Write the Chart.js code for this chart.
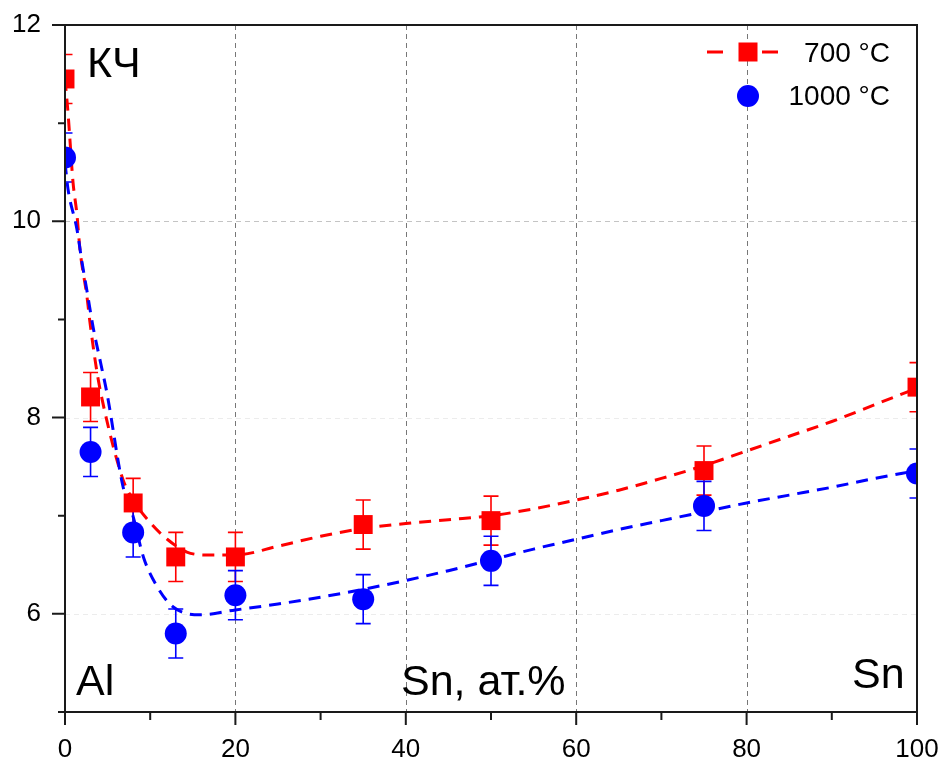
<!DOCTYPE html>
<html>
<head>
<meta charset="utf-8">
<script src="https://cdn.jsdelivr.net/npm/chart.js@4/dist/chart.umd.min.js"></script>
<style>
  html, body { margin: 0; padding: 0; background: #ffffff; }
  #wrap { width: 944px; height: 762px; }
</style>
</head>
<body>
<div id="wrap"><canvas id="c" width="944" height="762"></canvas></div>
<script>
// ---- data ----
const xSn = [0, 3, 8, 13, 20, 35, 50, 75, 100];
const y700 = [11.45, 8.21, 7.13, 6.58, 6.58, 6.91, 6.95, 7.46, 8.31];
const err700 = [0.25, 0.25, 0.25, 0.25, 0.25, 0.25, 0.25, 0.25, 0.25];
const y1000 = [10.65, 7.65, 6.83, 5.80, 6.19, 6.15, 6.54, 7.10, 7.43];
const err1000 = [0.25, 0.25, 0.25, 0.25, 0.25, 0.25, 0.25, 0.25, 0.25];

const fit700X = [0, 0.35, 0.94, 1.4, 1.76, 2.58, 2.93, 3.76, 4.7, 6.8, 8, 10, 12, 14.3, 16.7, 20, 25, 30, 35, 40, 45, 50, 55, 60, 65, 70, 75, 80, 85, 90, 95, 100];
const fit700Y = [11.45, 11.11, 10.40, 10.07, 9.71, 9.23, 8.97, 8.46, 8.05, 7.37, 7.16, 6.93, 6.76, 6.63, 6.60, 6.60, 6.69, 6.79, 6.87, 6.92, 6.96, 7.00, 7.07, 7.16, 7.26, 7.38, 7.51, 7.66, 7.81, 7.96, 8.13, 8.30];
const fit1000X = [0, 0.35, 1.4, 2.0, 2.6, 3.3, 4.1, 4.9, 6.8, 8, 9.2, 10.8, 12.7, 15.8, 20, 25, 30, 35, 40, 45, 50, 55, 60, 65, 70, 75, 80, 85, 90, 95, 100];
const fit1000Y = [10.6, 10.33, 9.92, 9.58, 9.28, 8.92, 8.59, 8.26, 7.30, 6.99, 6.58, 6.28, 6.07, 5.99, 6.04, 6.10, 6.17, 6.25, 6.34, 6.44, 6.55, 6.66, 6.76, 6.86, 6.95, 7.04, 7.13, 7.21, 7.29, 7.38, 7.46];

const xTickLabels = [0, 20, 40, 60, 80, 100];
const yTickLabels = [6, 8, 10, 12];
const seriesNames = ['700 °C', '1000 °C'];
const noteLabels = ['КЧ', 'Al', 'Sn, ат.%', 'Sn'];

const RED = '#ff0000';
const BLUE = '#0000ff';
const FONT = '"Liberation Sans", Arial, sans-serif';

const pts = (xs, ys) => xs.map((x, i) => ({ x: x, y: ys[i] }));

const decor = {
  id: 'decor',
  beforeDatasetsDraw(chart) {
    const ctx = chart.ctx, a = chart.chartArea;
    const xs = chart.scales.x, ys = chart.scales.y;
    ctx.save();
    // grid lines
    ctx.lineWidth = 1;
    ctx.setLineDash([5, 4]);
    ctx.strokeStyle = '#777777';
    [20, 40, 60, 80].forEach(v => {
      const px = Math.round(xs.getPixelForValue(v)) + 0.5;
      ctx.beginPath(); ctx.moveTo(px, a.top); ctx.lineTo(px, a.bottom); ctx.stroke();
    });
    [6, 8, 10].forEach(v => {
      ctx.strokeStyle = v === 10 ? '#c4c4c4' : '#ececec';
      const py = Math.round(ys.getPixelForValue(v)) + 0.5;
      ctx.beginPath(); ctx.moveTo(a.left, py); ctx.lineTo(a.right, py); ctx.stroke();
    });
    ctx.setLineDash([]);
    // error bars
    ctx.beginPath(); ctx.rect(a.left, a.top, a.right - a.left, a.bottom - a.top); ctx.clip();
    const drawErr = (yv, ev, col) => {
      ctx.strokeStyle = col; ctx.lineWidth = 1.6;
      xSn.forEach((x, i) => {
        const px = xs.getPixelForValue(x);
        const p1 = ys.getPixelForValue(yv[i] + ev[i]);
        const p2 = ys.getPixelForValue(yv[i] - ev[i]);
        ctx.beginPath();
        ctx.moveTo(px, p1); ctx.lineTo(px, p2);
        ctx.moveTo(px - 7.5, p1); ctx.lineTo(px + 7.5, p1);
        ctx.moveTo(px - 7.5, p2); ctx.lineTo(px + 7.5, p2);
        ctx.stroke();
      });
    };
    drawErr(y700, err700, RED);
    drawErr(y1000, err1000, BLUE);
    ctx.restore();
  },
  afterDraw(chart) {
    const ctx = chart.ctx, a = chart.chartArea;
    const xs = chart.scales.x, ys = chart.scales.y;
    ctx.save();
    // frame
    ctx.strokeStyle = '#1a1a1a';
    ctx.lineWidth = 2;
    ctx.strokeRect(a.left, a.top, a.right - a.left, a.bottom - a.top);
    // ticks
    ctx.beginPath();
    for (let v = 5; v <= 12; v++) {
      const py = ys.getPixelForValue(v);
      const len = (v % 2 === 0) ? 13 : 7;
      ctx.moveTo(a.left, py); ctx.lineTo(a.left - len, py);
    }
    for (let v = 0; v <= 100; v += 10) {
      const px = xs.getPixelForValue(v);
      const len = (v % 20 === 0) ? 13 : 8;
      ctx.moveTo(px, a.bottom); ctx.lineTo(px, a.bottom + len);
    }
    ctx.stroke();
    // annotations
    ctx.fillStyle = '#000000';
    ctx.textBaseline = 'alphabetic';
    ctx.textAlign = 'left';
    ctx.font = '43px ' + FONT;
    ctx.fillText(noteLabels[0], 87, 77);
    ctx.fillText(noteLabels[1], 76, 695);
    ctx.fillText(noteLabels[2], 401, 695);
    ctx.fillText(noteLabels[3], 852, 688);
    // legend
    const lx = 748;
    ctx.strokeStyle = RED; ctx.lineWidth = 3;
    ctx.beginPath();
    ctx.moveTo(707, 52); ctx.lineTo(723, 52);
    ctx.moveTo(762, 52); ctx.lineTo(778, 52);
    ctx.stroke();
    ctx.fillStyle = RED;
    ctx.fillRect(lx - 9.5, 52 - 9.5, 19, 19);
    ctx.fillStyle = BLUE;
    ctx.beginPath(); ctx.arc(lx, 96, 11, 0, Math.PI * 2); ctx.fill();
    ctx.fillStyle = '#000000';
    ctx.font = '28px ' + FONT;
    ctx.textAlign = 'right';
    ctx.textBaseline = 'middle';
    ctx.fillText(seriesNames[0], 890, 54);
    ctx.fillText(seriesNames[1], 890, 97);
    ctx.restore();
  }
};

new Chart(document.getElementById('c'), {
  type: 'line',
  data: {
    datasets: [
      { label: seriesNames[1], data: pts(xSn, y1000), showLine: false, pointStyle: 'circle',
        pointRadius: 11, pointHoverRadius: 11, backgroundColor: BLUE, borderColor: BLUE, pointBorderWidth: 0, order: 0 },
      { label: seriesNames[0], data: pts(xSn, y700), showLine: false, pointStyle: 'rect',
        pointRadius: 13.4, pointHoverRadius: 13.4, backgroundColor: RED, borderColor: RED, pointBorderWidth: 0, order: 1 },
      { label: seriesNames[1] + ' fit', data: pts(fit1000X, fit1000Y), showLine: true, pointRadius: 0,
        borderColor: BLUE, borderWidth: 3, borderDash: [12, 8], cubicInterpolationMode: 'monotone', fill: false, order: 2 },
      { label: seriesNames[0] + ' fit', data: pts(fit700X, fit700Y), showLine: true, pointRadius: 0,
        borderColor: RED, borderWidth: 3, borderDash: [12, 8], cubicInterpolationMode: 'monotone', fill: false, order: 3 }
    ]
  },
  options: {
    responsive: false,
    devicePixelRatio: 1,
    animation: false,
    layout: { padding: { top: 25, right: 27, left: 0, bottom: 0 } },
    plugins: { legend: { display: false }, tooltip: { enabled: false } },
    scales: {
      x: {
        type: 'linear', min: 0, max: 100,
        grid: { display: false }, border: { display: false },
        ticks: { stepSize: 20, autoSkip: false, maxRotation: 0, padding: 14, color: '#000000',
                 font: { family: FONT, size: 26 },
                 callback: v => xTickLabels.includes(v) ? String(v) : '' },
        afterFit: s => { s.height = 50; s.paddingLeft = 0; s.paddingRight = 0; s.paddingTop = 0; s.paddingBottom = 0; }
      },
      y: {
        type: 'linear', min: 5, max: 12,
        grid: { display: false }, border: { display: false },
        ticks: { stepSize: 1, autoSkip: false, padding: 16, color: '#000000',
                 font: { family: FONT, size: 26 },
                 callback: v => yTickLabels.includes(v) ? String(v) : '' },
        afterFit: s => { s.width = 65; s.paddingLeft = 0; s.paddingRight = 0; s.paddingTop = 0; s.paddingBottom = 0; }
      }
    }
  },
  plugins: [decor]
});
</script>
</body>
</html>
